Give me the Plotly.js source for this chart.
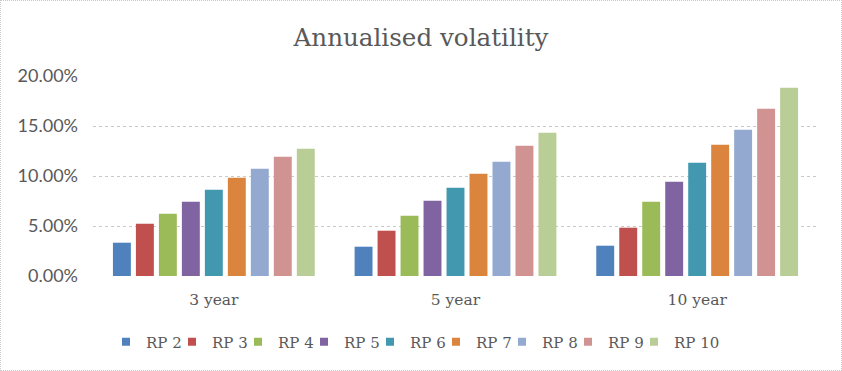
<!DOCTYPE html>
<html>
<head>
<meta charset="utf-8">
<script src="https://cdn.plot.ly/plotly-3.0.1.min.js"></script>
<style>
html,body{margin:0;padding:0;background:#fff;}
#chart{width:840px;height:369px;border:1px dotted #c8c8c8;}
</style>
</head>
<body>
<div id="chart"></div>
<script>
const categories = ["3 year", "5 year", "10 year"];
const seriesNames = ["RP 2", "RP 3", "RP 4", "RP 5", "RP 6", "RP 7", "RP 8", "RP 9", "RP 10"];
const rp2  = [0.0333, 0.0293, 0.0303];
const rp3  = [0.0523, 0.0453, 0.0483];
const rp4  = [0.0623, 0.0603, 0.0743];
const rp5  = [0.0743, 0.0753, 0.0943];
const rp6  = [0.0863, 0.0883, 0.1133];
const rp7  = [0.0983, 0.1023, 0.1313];
const rp8  = [0.1073, 0.1143, 0.1463];
const rp9  = [0.1193, 0.1303, 0.1673];
const rp10 = [0.1273, 0.1433, 0.1883];
const seriesValues = [rp2, rp3, rp4, rp5, rp6, rp7, rp8, rp9, rp10];
const colors = ["#4F81BD", "#C0504D", "#9BBB59", "#8064A2", "#4198AF", "#DB843D", "#93A9CF", "#D19392", "#B9CD96"];

// bars (legend entries are drawn by matching marker proxies so the swatch is a small square)
const barTraces = seriesNames.map((name, i) => ({
  type: "bar",
  name: name,
  legendgroup: name,
  showlegend: false,
  x: categories,
  y: seriesValues[i],
  marker: {color: colors[i], line: {width: 0}},
  hoverinfo: "skip"
}));
const legendTraces = seriesNames.map((name, i) => ({
  type: "scatter",
  mode: "markers",
  name: name,
  legendgroup: name,
  showlegend: true,
  x: [categories[0]],
  y: [null],
  marker: {color: colors[i], symbol: "square", size: 8, line: {width: 0}},
  hoverinfo: "skip"
}));
// invisible spacer so the last legend label is not clipped
const spacer = {
  type: "scatter", mode: "markers", name: " ", showlegend: true,
  x: [categories[0]], y: [null],
  marker: {color: "rgba(0,0,0,0)", size: 1}, hoverinfo: "skip"
};

const textColor = "#595959";
const layout = {
  width: 840,
  height: 369,
  margin: {l: 92, r: 23, t: 75, b: 94},
  paper_bgcolor: "#ffffff",
  plot_bgcolor: "#ffffff",
  bargap: 0.144,
  bargroupgap: 0.22,
  barmode: "group",
  showlegend: true,
  title: {
    text: "Annualised volatility",
    font: {family: "DejaVu Serif", size: 24.6, color: textColor},
    x: 0.5, xref: "container", xanchor: "center",
    y: 1 - 36/369, yref: "container", yanchor: "middle"
  },
  xaxis: {
    type: "category",
    tickfont: {family: "DejaVu Serif", size: 15.5, color: textColor},
    showgrid: false,
    showline: false,
    ticks: "",
    ticklabelstandoff: 12
  },
  yaxis: {
    range: [0, 0.2],
    tickvals: [0, 0.05, 0.10, 0.15, 0.20],
    tickformat: ".2%",
    tickfont: {family: "Lato", size: 18, color: textColor},
    showgrid: true,
    gridcolor: "#c9c9c9",
    griddash: "dot",
    gridwidth: 1,
    zeroline: false,
    showline: false,
    ticks: "",
    ticklabelstandoff: 14
  },
  legend: {
    orientation: "h",
    x: 105/840, xref: "container", xanchor: "left",
    y: 1 - 341/369, yref: "container", yanchor: "middle",
    font: {family: "DejaVu Serif", size: 15, color: textColor},
    itemwidth: 30,
    tracegroupgap: 0,
    entrywidth: 21,
    entrywidthmode: "pixels",
    traceorder: "normal"
  }
};

Plotly.newPlot("chart", barTraces.concat(legendTraces, [spacer]), layout, {displayModeBar: false, staticPlot: true});
</script>
</body>
</html>
